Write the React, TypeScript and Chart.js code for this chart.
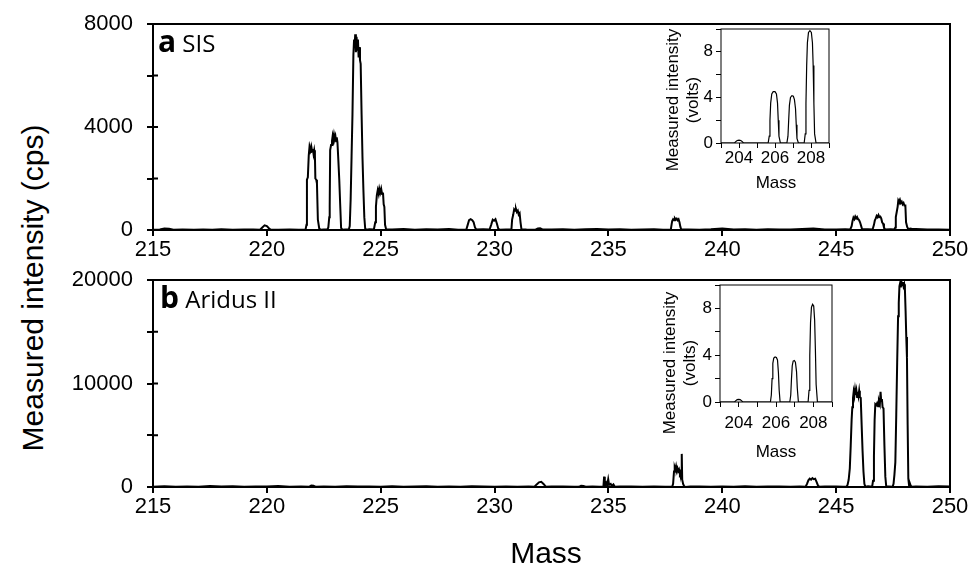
import React, { useEffect, useRef } from 'react';
import { Chart, registerables } from 'chart.js';

Chart.register(...registerables);

type Pt = [number, number];

// ---------- Axis ticks ----------
const massTicksMain = [215, 220, 225, 230, 235, 240, 245, 250];
const sisYLabels = [0, 4000, 8000];
const aridusYLabels = [0, 10000, 20000];
const insetXLabels = [204, 206, 208];
const insetYLabels = [0, 4, 8];

// ---------- Panel a: SIS (mass, cps) ----------
const sisBaseline: Pt[] = [
  [215.0, 10], [215.3, 20], [215.5, 60], [215.7, 50], [215.9, 10], [216.3, 15], [216.8, 5],
  [217.2, 20], [217.6, 10], [218.0, 25], [218.5, 5], [219.0, 15], [219.4, 20], [220.5, 10],
  [221.0, 20], [221.4, 10], [222.5, 15], [223.45, 20], [224.5, 25], [225.5, 20], [226.0, 40],
  [226.5, 10], [227.0, 30], [227.5, 15], [228.0, 35], [228.4, 10], [229.5, 30], [230.5, 20],
  [231.4, 20], [232.5, 15], [233.0, 30], [233.5, 10], [234.0, 25], [234.5, 40], [235.0, 15],
  [235.5, 30], [236.0, 10], [236.5, 20], [237.0, 30], [237.4, 10], [238.5, 20], [239.0, 10],
  [239.5, 30], [240.0, 60], [240.5, 15], [241.0, 25], [241.5, 10], [242.0, 30], [242.5, 15],
  [243.0, 20], [243.5, 40], [244.0, 60], [244.5, 20], [245.0, 15], [245.4, 30], [246.4, 30],
  [247.4, 25], [248.5, 40], [249.0, 20], [249.5, 15], [250.0, 10],
];
const sisPeaks: Pt[] = [
  [219.7, 10], [219.8, 100], [219.9, 180], [220.0, 150], [220.1, 60], [220.18, 10],
  [221.7, 20], [221.74, 200], [221.76, 1950], [221.8, 2050], [221.84, 2900], [221.86, 3100],
  [221.88, 2950], [221.9, 3150], [221.93, 3000], [221.96, 3200], [221.99, 3050], [222.02, 3150],
  [222.05, 2950], [222.08, 3100], [222.11, 2900], [222.13, 2000], [222.17, 1950], [222.2, 1800],
  [222.24, 400], [222.3, 60], [222.36, 10],
  [222.66, 20], [222.7, 100], [222.74, 500], [222.76, 900], [222.78, 3100], [222.82, 3300],
  [222.86, 3450], [222.89, 3650], [222.92, 3500], [222.95, 3700], [222.98, 3550], [223.01, 3650],
  [223.04, 3450], [223.07, 3600], [223.1, 3400], [223.14, 2700], [223.18, 1950], [223.22, 1000],
  [223.26, 80], [223.32, 10],
  [223.6, 20], [223.64, 150], [223.68, 1200], [223.72, 2850], [223.76, 4500], [223.8, 6800],
  [223.83, 7400], [223.86, 7200], [223.88, 7600], [223.91, 6900], [223.94, 7500], [223.97, 7000],
  [224.0, 7400], [224.03, 6700], [224.06, 7100], [224.09, 6600], [224.12, 6450], [224.16, 4500],
  [224.2, 2800], [224.24, 1550], [224.28, 500], [224.32, 40], [224.38, 10],
  [224.7, 20], [224.76, 300], [224.79, 900], [224.83, 1350], [224.87, 1550], [224.91, 1400],
  [224.94, 1600], [224.98, 1450], [225.02, 1600], [225.06, 1400], [225.1, 1450], [225.13, 1000],
  [225.16, 900], [225.19, 200], [225.24, 20],
  [228.76, 20], [228.82, 200], [228.88, 380], [228.95, 420], [229.02, 380], [229.08, 300],
  [229.14, 100], [229.2, 15],
  [229.78, 20], [229.85, 200], [229.92, 400], [229.98, 360], [230.04, 420], [230.1, 250],
  [230.16, 60], [230.22, 10],
  [230.74, 20], [230.77, 400], [230.82, 600], [230.86, 800], [230.9, 750], [230.94, 820],
  [230.98, 700], [231.02, 750], [231.06, 600], [231.1, 650], [231.14, 300], [231.18, 30],
  [231.8, 10], [231.9, 60], [232.0, 70], [232.1, 20],
  [237.74, 20], [237.78, 250], [237.8, 350], [237.84, 420], [237.88, 380], [237.92, 450],
  [237.96, 400], [238.0, 440], [238.04, 380], [238.08, 420], [238.12, 300], [238.16, 120],
  [238.2, 20],
  [245.62, 20], [245.68, 150], [245.72, 350], [245.76, 480], [245.8, 420], [245.84, 520],
  [245.88, 450], [245.92, 500], [245.96, 420], [246.0, 400], [246.05, 300], [246.1, 150],
  [246.14, 30],
  [246.6, 20], [246.66, 200], [246.7, 380], [246.74, 450], [246.78, 550], [246.82, 500],
  [246.86, 580], [246.9, 500], [246.94, 520], [246.98, 450], [247.02, 300], [247.06, 250],
  [247.1, 100], [247.15, 20],
  [247.55, 20], [247.6, 100], [247.62, 500], [247.66, 700], [247.7, 900], [247.73, 1150],
  [247.76, 1100], [247.8, 1180], [247.84, 1050], [247.88, 1100], [247.92, 1000], [247.96, 1050],
  [248.0, 950], [248.04, 950], [248.07, 300], [248.12, 120], [248.18, 20], [248.25, 60],
  [248.35, 40],
];

// ---------- Panel b: Aridus II (mass, cps) ----------
const aridusBaseline: Pt[] = [
  [215.0, 30], [215.5, 80], [216.0, 20], [216.5, 60], [217.0, 30], [217.5, 90], [218.0, 40],
  [218.5, 70], [219.0, 20], [219.5, 60], [220.0, 40], [220.5, 90], [221.0, 30], [221.5, 50],
  [222.5, 60], [223.0, 30], [223.5, 80], [224.0, 40], [224.5, 60], [225.0, 20], [225.5, 70],
  [226.0, 30], [226.5, 50], [227.0, 80], [227.5, 30], [228.0, 60], [228.5, 20], [229.0, 70],
  [229.5, 40], [230.0, 30], [230.5, 60], [231.0, 20], [231.5, 50], [232.5, 40], [233.0, 60],
  [233.5, 30], [234.3, 50], [234.6, 30], [235.5, 40], [236.0, 60], [236.5, 20], [237.0, 50],
  [237.5, 30], [238.6, 40], [239.0, 60], [239.5, 20], [240.0, 50], [240.5, 30], [241.0, 70],
  [241.5, 20], [242.0, 60], [242.5, 40], [243.0, 30], [243.4, 60], [244.5, 40], [245.0, 60],
  [245.3, 30], [246.4, 60], [247.3, 40], [248.5, 60], [249.0, 30], [249.5, 80], [250.0, 40],
];
const aridusPeaks: Pt[] = [
  [221.85, 20], [221.95, 150], [222.05, 120], [222.15, 20],
  [231.75, 20], [231.85, 250], [231.95, 450], [232.05, 500], [232.15, 300], [232.25, 30],
  [233.7, 20], [233.8, 120], [233.9, 100], [234.0, 20],
  [234.78, 20], [234.81, 1000], [234.84, 100], [234.9, 400], [234.94, 150], [234.99, 750],
  [235.03, 200], [235.1, 300], [235.15, 100], [235.22, 250], [235.28, 30],
  [237.8, 20], [237.84, 300], [237.88, 1500], [237.91, 1900], [237.94, 1700], [237.97, 2000],
  [238.0, 1600], [238.03, 1800], [238.06, 1500], [238.1, 1700], [238.14, 1300], [238.18, 1500],
  [238.2, 800], [238.22, 3200], [238.24, 700], [238.28, 300], [238.33, 60], [238.38, 10],
  [243.66, 20], [243.72, 300], [243.78, 650], [243.84, 800], [243.9, 700], [243.96, 850],
  [244.02, 750], [244.08, 800], [244.14, 500], [244.2, 150], [244.26, 20],
  [245.45, 20], [245.5, 200], [245.55, 700], [245.6, 1800], [245.64, 4000], [245.68, 6500],
  [245.71, 7700], [245.74, 8600], [245.77, 9200], [245.8, 8800], [245.83, 9400], [245.86, 8900],
  [245.89, 9300], [245.92, 8700], [245.95, 9200], [245.98, 8800], [246.01, 9300], [246.04, 8700],
  [246.08, 8600], [246.12, 6000], [246.16, 3500], [246.2, 1500], [246.24, 300], [246.28, 30],
  [246.58, 20], [246.62, 600], [246.66, 3000], [246.69, 6500], [246.72, 8000], [246.76, 7900],
  [246.8, 8100], [246.84, 7800], [246.88, 8300], [246.92, 8000], [246.95, 9200], [246.98, 8300],
  [247.01, 8500], [247.04, 7700], [247.08, 7600], [247.12, 4000], [247.16, 1000], [247.2, 50],
  [247.48, 20], [247.52, 300], [247.56, 1200], [247.6, 2400], [247.64, 7000], [247.68, 12000],
  [247.72, 16500], [247.75, 17800], [247.78, 19400], [247.81, 19700], [247.84, 19300],
  [247.87, 19800], [247.9, 19500], [247.93, 19800], [247.96, 19400], [247.99, 19600],
  [248.02, 19100], [248.05, 17000], [248.08, 14500], [248.11, 12500], [248.14, 6000],
  [248.17, 800], [248.2, 200], [248.24, 350], [248.28, 100], [248.34, 20],
];

// ---------- Insets (mass, volts) ----------
const insetSisScan: Pt[] = [
  [203.0, 0], [203.75, 0], [203.82, 0.12], [203.9, 0.22], [204.0, 0.25], [204.1, 0.22],
  [204.18, 0.12], [204.25, 0], [205.62, 0], [205.68, 0.6], [205.72, 2.0], [205.76, 3.5],
  [205.82, 4.3], [205.9, 4.5], [206.0, 4.5], [206.08, 4.3], [206.14, 3.5], [206.18, 2.0],
  [206.22, 0.6], [206.3, 0], [206.66, 0], [206.72, 0.6], [206.76, 2.0], [206.8, 3.3],
  [206.86, 4.0], [206.94, 4.15], [207.02, 4.1], [207.08, 3.8], [207.14, 3.0], [207.18, 1.6],
  [207.22, 0.4], [207.3, 0], [207.62, 0], [207.68, 0.8], [207.72, 3.5], [207.76, 6.8],
  [207.8, 8.8], [207.86, 9.7], [207.94, 9.85], [208.02, 9.7], [208.08, 8.8], [208.12, 6.8],
  [208.16, 3.5], [208.2, 0.8], [208.28, 0], [209.0, 0],
];
const insetAridusScan: Pt[] = [
  [203.0, 0], [203.78, 0], [203.85, 0.12], [203.92, 0.2], [204.0, 0.22], [204.08, 0.2],
  [204.15, 0.12], [204.22, 0], [205.7, 0], [205.75, 0.6], [205.79, 2.0], [205.83, 3.3],
  [205.88, 3.75], [205.95, 3.85], [206.02, 3.8], [206.08, 3.6], [206.13, 2.5], [206.17, 1.0],
  [206.22, 0], [206.74, 0], [206.79, 0.6], [206.83, 2.0], [206.87, 3.1], [206.92, 3.5],
  [206.98, 3.55], [207.04, 3.4], [207.1, 2.6], [207.14, 1.2], [207.2, 0], [207.72, 0],
  [207.77, 1.0], [207.81, 4.0], [207.85, 6.8], [207.9, 8.1], [207.96, 8.35], [208.02, 8.2],
  [208.07, 7.0], [208.11, 4.5], [208.15, 1.5], [208.22, 0], [209.0, 0],
];

const FONT = 'Liberation Sans, Arial, sans-serif';

const toXY = (...parts: Pt[][]) =>
  parts.flat().slice().sort((a, b) => a[0] - b[0]).map(([x, y]) => ({ x, y }));

const framePlugin = {
  id: 'frame',
  afterDraw(chart: any, _args: any, opts: any) {
    const { ctx, chartArea: a } = chart;
    ctx.save();
    ctx.strokeStyle = '#000';
    ctx.lineWidth = opts.width ?? 2;
    ctx.strokeRect(a.left, a.top, a.right - a.left, a.bottom - a.top);
    if (opts.innerTick) {
      const y = chart.scales.y;
      ctx.lineWidth = opts.tickWidth ?? 2;
      ctx.beginPath();
      y.ticks.forEach((t: any) => {
        const py = y.getPixelForValue(t.value);
        ctx.moveTo(a.left, py);
        ctx.lineTo(a.left + opts.innerTick, py);
      });
      ctx.stroke();
    }
    ctx.restore();
  },
};

type Cfg = {
  data: { x: number; y: number }[];
  xMin: number; xMax: number; xStep: number; xLabels: number[];
  yMax: number; yStep: number; yLabels: number[];
  padTop: number; padRight: number; yWidth: number; xHeight: number;
  fontSize: number; lineWidth: number; axisWidth: number;
  tickLen: number; xPad: number; yPad: number; innerTick: number;
};

function build(canvas: HTMLCanvasElement, c: Cfg) {
  const grid = {
    display: true,
    drawOnChartArea: false,
    drawTicks: true,
    tickLength: c.tickLen,
    color: '#000',
    tickColor: '#000',
    tickWidth: c.axisWidth,
    lineWidth: c.axisWidth,
  };
  return new Chart(canvas, {
    type: 'line',
    data: {
      datasets: [
        {
          data: c.data,
          borderColor: '#000',
          borderWidth: c.lineWidth,
          pointRadius: 0,
          tension: 0,
          fill: false,
        },
      ],
    },
    options: {
      animation: false,
      responsive: false,
      devicePixelRatio: 1,
      events: [],
      layout: { padding: { top: c.padTop, right: c.padRight, left: 0, bottom: 0 } },
      plugins: {
        legend: { display: false },
        tooltip: { enabled: false },
        frame: { width: c.axisWidth, innerTick: c.innerTick, tickWidth: c.axisWidth },
      } as any,
      scales: {
        x: {
          type: 'linear',
          min: c.xMin,
          max: c.xMax,
          grid,
          border: { display: false },
          ticks: {
            stepSize: c.xStep,
            autoSkip: false,
            maxRotation: 0,
            padding: c.xPad,
            color: '#000',
            font: { size: c.fontSize, family: FONT },
            callback: (v: any) => (c.xLabels.includes(Number(v)) ? String(v) : ''),
          },
          afterFit: (s: any) => {
            s.height = c.xHeight;
            s.paddingLeft = 0;
            s.paddingRight = 0;
          },
        },
        y: {
          type: 'linear',
          min: 0,
          max: c.yMax,
          grid,
          border: { display: false },
          ticks: {
            stepSize: c.yStep,
            autoSkip: false,
            padding: c.yPad,
            color: '#000',
            font: { size: c.fontSize, family: FONT },
            callback: (v: any) => (c.yLabels.includes(Number(v)) ? String(v) : ''),
          },
          afterFit: (s: any) => {
            s.width = c.yWidth;
            s.paddingTop = 0;
            s.paddingBottom = 0;
          },
        },
      },
    } as any,
    plugins: [framePlugin as any],
  });
}

const abs = (left: number, top: number, w: number, h: number): React.CSSProperties => ({
  position: 'absolute', left, top, width: w, height: h,
});

export default function App() {
  const aRef = useRef<HTMLCanvasElement>(null);
  const bRef = useRef<HTMLCanvasElement>(null);
  const iaRef = useRef<HTMLCanvasElement>(null);
  const ibRef = useRef<HTMLCanvasElement>(null);

  useEffect(() => {
    const main = {
      xMin: 215, xMax: 250, xStep: 5, xLabels: massTicksMain,
      padRight: 28, yWidth: 93, fontSize: 22, lineWidth: 2, axisWidth: 2,
      tickLen: 6, xPad: 1, yPad: 14, innerTick: 5,
    };
    const inset = {
      xMin: 203, xMax: 209, xStep: 1, xLabels: insetXLabels,
      yMax: 10, yStep: 2, yLabels: insetYLabels,
      fontSize: 17, lineWidth: 1.2, axisWidth: 1, tickLen: 5, yPad: 3, innerTick: 0,
    };
    const charts = [
      build(aRef.current!, {
        ...main, data: toXY(sisBaseline, sisPeaks),
        yMax: 8000, yStep: 2000, yLabels: sisYLabels, padTop: 24, xHeight: 40,
      }),
      build(bRef.current!, {
        ...main, data: toXY(aridusBaseline, aridusPeaks),
        yMax: 20000, yStep: 5000, yLabels: aridusYLabels, padTop: 18, xHeight: 80,
      }),
      build(iaRef.current!, {
        ...inset, data: toXY(insetSisScan),
        padTop: 9, padRight: 11, yWidth: 21, xHeight: 27, xPad: 0,
      }),
      build(ibRef.current!, {
        ...inset, data: toXY(insetAridusScan),
        padTop: 10, padRight: 8, yWidth: 20, xHeight: 33, xPad: 6,
      }),
    ];
    return () => charts.forEach((ch) => ch.destroy());
  }, []);

  const sans: React.CSSProperties = { fontFamily: FONT, color: '#000', whiteSpace: 'nowrap' };
  const label: React.CSSProperties = {
    position: 'absolute', fontFamily: '"Open Sans", sans-serif', color: '#000',
    lineHeight: '30px', whiteSpace: 'nowrap',
  };

  return (
    <div style={{ position: 'absolute', left: 0, top: 0, width: 978, height: 567, background: '#fff', overflow: 'hidden' }}>
      <canvas ref={aRef} width={918} height={270} style={abs(60, 0, 918, 270)} />
      <canvas ref={bRef} width={918} height={305} style={abs(60, 262, 918, 305)} />
      <canvas ref={iaRef} width={140} height={150} style={abs(700, 20, 140, 150)} />
      <canvas ref={ibRef} width={140} height={160} style={abs(700, 275, 140, 160)} />

      <div style={{ ...label, left: 158, top: 26 }}>
        <span style={{ fontWeight: 700, fontSize: 30 }}>a</span>
        <span style={{ fontSize: 24 }}> SIS</span>
      </div>
      <div style={{ ...label, left: 160, top: 282 }}>
        <span style={{ fontWeight: 700, fontSize: 30 }}>b</span>
        <span style={{ fontSize: 24 }}> Aridus II</span>
      </div>

      <div style={{ ...sans, ...abs(-217, 273, 500, 30), fontSize: 30, lineHeight: '30px', textAlign: 'center', transform: 'rotate(-90deg)' }}>
        Measured intensity (cps)
      </div>
      <div style={{ ...sans, ...abs(446, 538, 200, 30), fontSize: 30, lineHeight: '30px', textAlign: 'center' }}>
        Mass
      </div>

      <div style={{ ...sans, ...abs(593, 80, 180, 40), fontSize: 17, lineHeight: '20px', textAlign: 'center', transform: 'rotate(-90deg)' }}>
        Measured intensity<br />(volts)
      </div>
      <div style={{ ...sans, ...abs(726, 173, 100, 20), fontSize: 17, lineHeight: '20px', textAlign: 'center' }}>
        Mass
      </div>

      <div style={{ ...sans, ...abs(590, 343, 180, 40), fontSize: 17, lineHeight: '20px', textAlign: 'center', transform: 'rotate(-90deg)' }}>
        Measured intensity<br />(volts)
      </div>
      <div style={{ ...sans, ...abs(726, 442, 100, 20), fontSize: 17, lineHeight: '20px', textAlign: 'center' }}>
        Mass
      </div>
    </div>
  );
}
